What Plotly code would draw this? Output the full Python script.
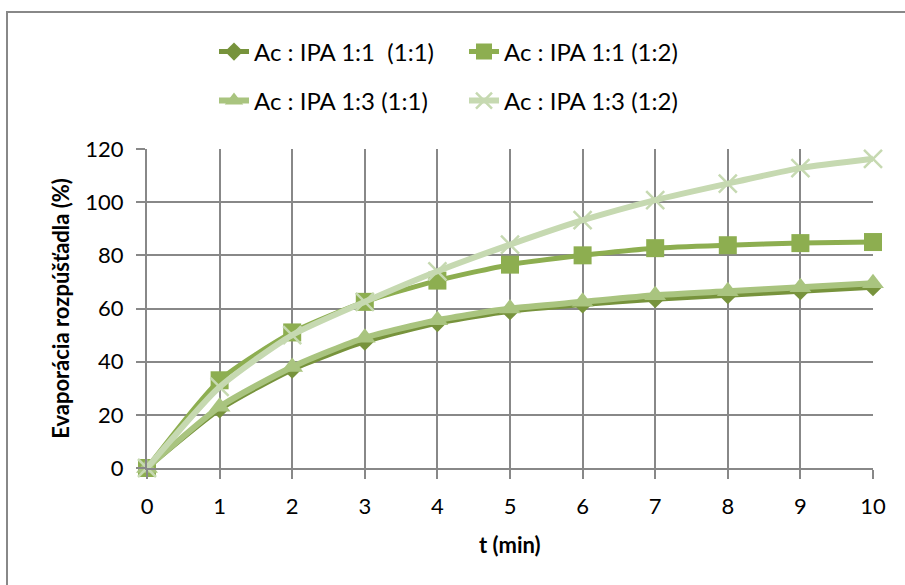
import plotly.graph_objects as go

t = [0, 1, 2, 3, 4, 5, 6, 7, 8, 9, 10]
s1_name = "Ac : IPA 1:1 \u00a0(1:1)"
s2_name = "Ac : IPA 1:1 (1:2)"
s3_name = "Ac : IPA 1:3 (1:1)"
s4_name = "Ac : IPA 1:3 (1:2)"
s1 = [0, 22, 37, 47.5, 54.5, 59, 61.5, 63.5, 65, 66.5, 68]
s2 = [0, 33, 51, 62.5, 70.5, 76.5, 80, 82.7, 83.8, 84.6, 85]
s3 = [0, 23, 38, 49, 55.6, 60, 62.5, 65, 66.5, 68, 69.5]
s4 = [0, 30.5, 50, 62.5, 74, 84, 93.2, 100.8, 107, 112.8, 116.3]

c1, c2, c3, c4 = "#77933C", "#8DAE50", "#A9C47F", "#C6D9B1"

L, R, T, B = 147, 32, 149, 117
W, H = 905, 585
pw, ph = W - L - R, H - T - B

fig = go.Figure()
fig.add_trace(go.Scatter(x=t, y=s1, name=s1_name, mode="lines+markers", line=dict(color=c1, width=5, shape="spline", smoothing=0.6),
                         marker=dict(symbol="diamond", size=14, color=c1), cliponaxis=False, legend="legend"))
fig.add_trace(go.Scatter(x=t, y=s2, name=s2_name, mode="lines+markers", line=dict(color=c2, width=5, shape="spline", smoothing=0.6),
                         marker=dict(symbol="square", size=18, color=c2), cliponaxis=False, legend="legend"))
fig.add_trace(go.Scatter(x=t, y=s3, name=s3_name, mode="lines+markers", line=dict(color=c3, width=6, shape="spline", smoothing=0.6),
                         marker=dict(symbol="triangle-up", size=19, color=c3), cliponaxis=False, legend="legend2"))
fig.add_trace(go.Scatter(x=t, y=s4, name=s4_name, mode="lines+markers", line=dict(color=c4, width=6, shape="spline", smoothing=0.6),
                         marker=dict(symbol="x-thin", size=18, color=c4, line=dict(color=c4, width=2.5)), cliponaxis=False, legend="legend2"))

font = dict(family="Lato, 'Open Sans', sans-serif", size=22, color="#000000")
lx = (214 - L) / pw
fig.update_layout(
    width=W, height=H,
    margin=dict(l=L, r=R, t=T, b=B),
    paper_bgcolor="white", plot_bgcolor="white",
    font=font,
    showlegend=True,
    legend=dict(orientation="h", x=lx, xanchor="left", y=(H - B - 52) / ph, yanchor="middle",
                entrywidth=205, entrywidthmode="pixels", font=dict(size=24), bgcolor="rgba(0,0,0,0)"),
    legend2=dict(orientation="h", x=lx, xanchor="left", y=(H - B - 101) / ph, yanchor="middle",
                 entrywidth=205, entrywidthmode="pixels", font=dict(size=24), bgcolor="rgba(0,0,0,0)"),
    xaxis=dict(range=[0, 10], tickmode="array", tickvals=t, ticktext=[str(v) for v in t],
               showgrid=True, gridcolor="#888888", gridwidth=2, showline=True, linecolor="#888888", linewidth=2,
               ticks="outside", ticklen=9, tickcolor="#888888", tickwidth=2, zeroline=False,
               ticklabelstandoff=9, fixedrange=True),
    yaxis=dict(range=[0, 120], tickmode="array", tickvals=[0, 20, 40, 60, 80, 100, 120],
               showgrid=True, gridcolor="#888888", gridwidth=2, showline=True, linecolor="#888888", linewidth=2,
               ticks="outside", ticklen=9, tickcolor="#888888", tickwidth=2, zeroline=False,
               ticklabelstandoff=8,
               title=dict(text="<b>Evaporácia rozpúšťadla (%)</b>", font=dict(size=22), standoff=10), fixedrange=True),
)
fig.add_annotation(text="<b>t (min)</b>", xref="paper", yref="paper", x=0.5, y=(H - B - 544) / ph,
                   xanchor="center", yanchor="middle", showarrow=False, font=dict(size=22))
fig.add_shape(type="rect", xref="paper", yref="paper",
              x0=(7 - L) / pw, x1=(W + 20 - L) / pw, y0=(H - B - (H + 20)) / ph, y1=(H - B - 12) / ph,
              line=dict(color="#888888", width=2), layer="below")
fig.write_html("out.html")
